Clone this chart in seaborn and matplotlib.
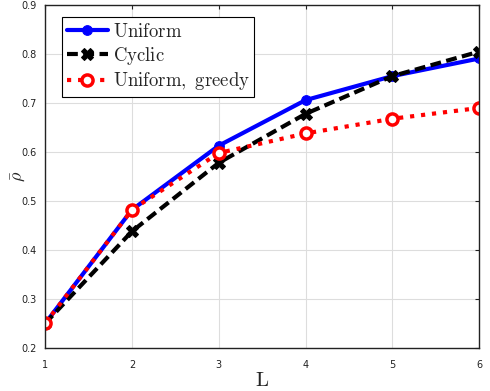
import pandas as pd
import numpy as np
import matplotlib.pyplot as plt
import seaborn as sns

sns.set_style("whitegrid")
plt.rcParams['mathtext.fontset'] = 'cm'

L = [1, 2, 3, 4, 5, 6]
uniform = [0.25, 0.482, 0.613, 0.706, 0.755, 0.791]
cyclic = [0.25, 0.438, 0.578, 0.678, 0.755, 0.805]
greedy = [0.25, 0.482, 0.598, 0.638, 0.668, 0.690]

fig = plt.figure(figsize=(4.9, 3.91), dpi=100)
ax = fig.add_axes([0.092, 0.110, 0.886, 0.877])

sns.lineplot(x=L, y=uniform, ax=ax, color='blue', lw=3, marker='o', ms=7,
             mec='blue', label=r'$\mathrm{Uniform}$')
sns.lineplot(x=L, y=cyclic, ax=ax, color='black', lw=3, marker='X', ms=8,
             mec='black', label=r'$\mathrm{Cyclic}$')
ax.lines[-1].set_dashes([2.6, 1.3])
sns.lineplot(x=L, y=greedy, ax=ax, color='red', lw=3, marker='o', ms=8,
             mfc='white', mec='red', mew=2.5, label=r'$\mathrm{Uniform,\ greedy}$')
ax.lines[-1].set_linestyle(':')

ax.set_xlim(1, 6)
ax.set_ylim(0.2, 0.9)
ax.set_xticks(L)
ax.set_yticks(np.arange(0.2, 0.91, 0.1))
ax.set_yticklabels(['0.2', '0.3', '0.4', '0.5', '0.6', '0.7', '0.8', '0.9'])
ax.tick_params(axis='both', labelsize=7, direction='in', length=3, top=True, right=True,
               colors='#222222')
ax.tick_params(axis='x', pad=9)
ax.tick_params(axis='y', pad=6)
ax.grid(True, color='#dddddd', lw=0.8)
for s in ax.spines.values():
    s.set_color('#222222')
    s.set_linewidth(1)

ax.set_xlabel(r'$\mathrm{L}$', fontsize=15, labelpad=0)
ax.set_ylabel(r'$\bar{\rho}$', fontsize=13)
ax.yaxis.set_label_coords(-0.04, 0.5)

leg = ax.legend(loc='upper left', bbox_to_anchor=(0.039, 0.965), borderaxespad=0,
                fontsize=13.5, frameon=True, fancybox=False, edgecolor='black',
                framealpha=1, handlelength=2.2, handletextpad=0.25, borderpad=0.25,
                labelspacing=0.2)
leg.get_frame().set_linewidth(0.8)

plt.savefig("out.png", dpi=100)
